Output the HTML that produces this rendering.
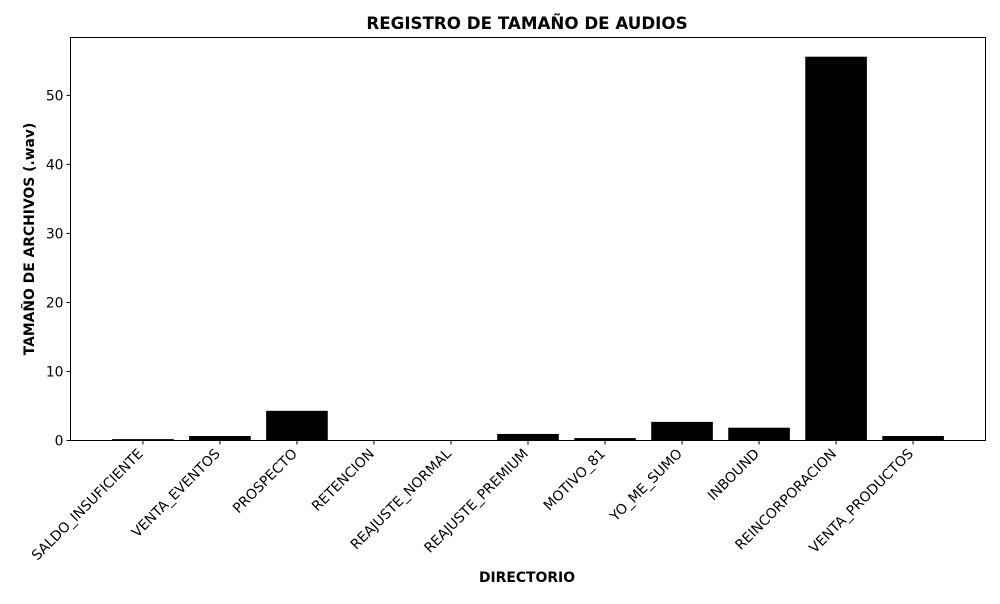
<!DOCTYPE html>
<html><head><meta charset="utf-8"><style>
body{margin:0;background:#fff;font-family:"DejaVu Sans","Liberation Sans",sans-serif}
</style></head><body>
<svg id="c" width="1000" height="600" xmlns="http://www.w3.org/2000/svg">
<text x="527" y="29" text-anchor="middle" font-size="16.7" font-weight="bold">REGISTRO DE TAMAÑO DE AUDIOS</text>
<text x="527" y="582" text-anchor="middle" font-size="13.9" font-weight="bold">DIRECTORIO</text>
<text transform="translate(34,239) rotate(-90)" text-anchor="middle" font-size="13.9" font-weight="bold">TAMAÑO DE ARCHIVOS (.wav)</text>
<g id="bars"></g><g id="ticks"></g>
<rect x="70.5" y="37.5" width="915" height="403" fill="none" stroke="#000" stroke-width="1"/>
</svg>
<script>
const categories=["SALDO_INSUFICIENTE","VENTA_EVENTOS","PROSPECTO","RETENCION","REAJUSTE_NORMAL","REAJUSTE_PREMIUM","MOTIVO_81","YO_ME_SUMO","INBOUND","REINCORPORACION","VENTA_PRODUCTOS"];
const values=[0.2,0.65,4.3,0,0,0.95,0.35,2.7,1.85,55.6,0.65];
const yTicks=[0,10,20,30,40,50];
const ns="http://www.w3.org/2000/svg";
const L=70.5,R=985.5,T=37.5,B=440.5;
const ymax=Math.max(...values)*1.05;
const n=categories.length;
const x0=-0.94,x1=n-1+0.94;
const xs=i=>L+(i-x0)/(x1-x0)*(R-L);
const ys=v=>B-v/ymax*(B-T);
const bw=0.8*(R-L)/(x1-x0);
const bars=document.getElementById('bars'),ticks=document.getElementById('ticks');
function mk(t,a,p){const e=document.createElementNS(ns,t);for(const k in a)e.setAttribute(k,a[k]);p.appendChild(e);return e;}
categories.forEach((c,i)=>{
 const r=mk('rect',{x:xs(i)-bw/2,y:ys(values[i]),width:bw,height:B-ys(values[i]),fill:'#000'},bars);
 
 
 mk('line',{x1:xs(i),x2:xs(i),y1:B,y2:B+4,stroke:'#000'},ticks);
 const t=mk('text',{transform:`translate(${xs(i)+1},${B+14}) rotate(-45)`,'text-anchor':'end','font-size':'13.9'},ticks);
 t.textContent=c;
 
 
});
yTicks.forEach(v=>{
 mk('line',{x1:L-4,x2:L,y1:ys(v),y2:ys(v),stroke:'#000'},ticks);
 const t=mk('text',{x:L-7,y:ys(v)+5,'text-anchor':'end','font-size':'13.9'},ticks);
 t.textContent=v;
 
 
});
</script>
</body></html>
